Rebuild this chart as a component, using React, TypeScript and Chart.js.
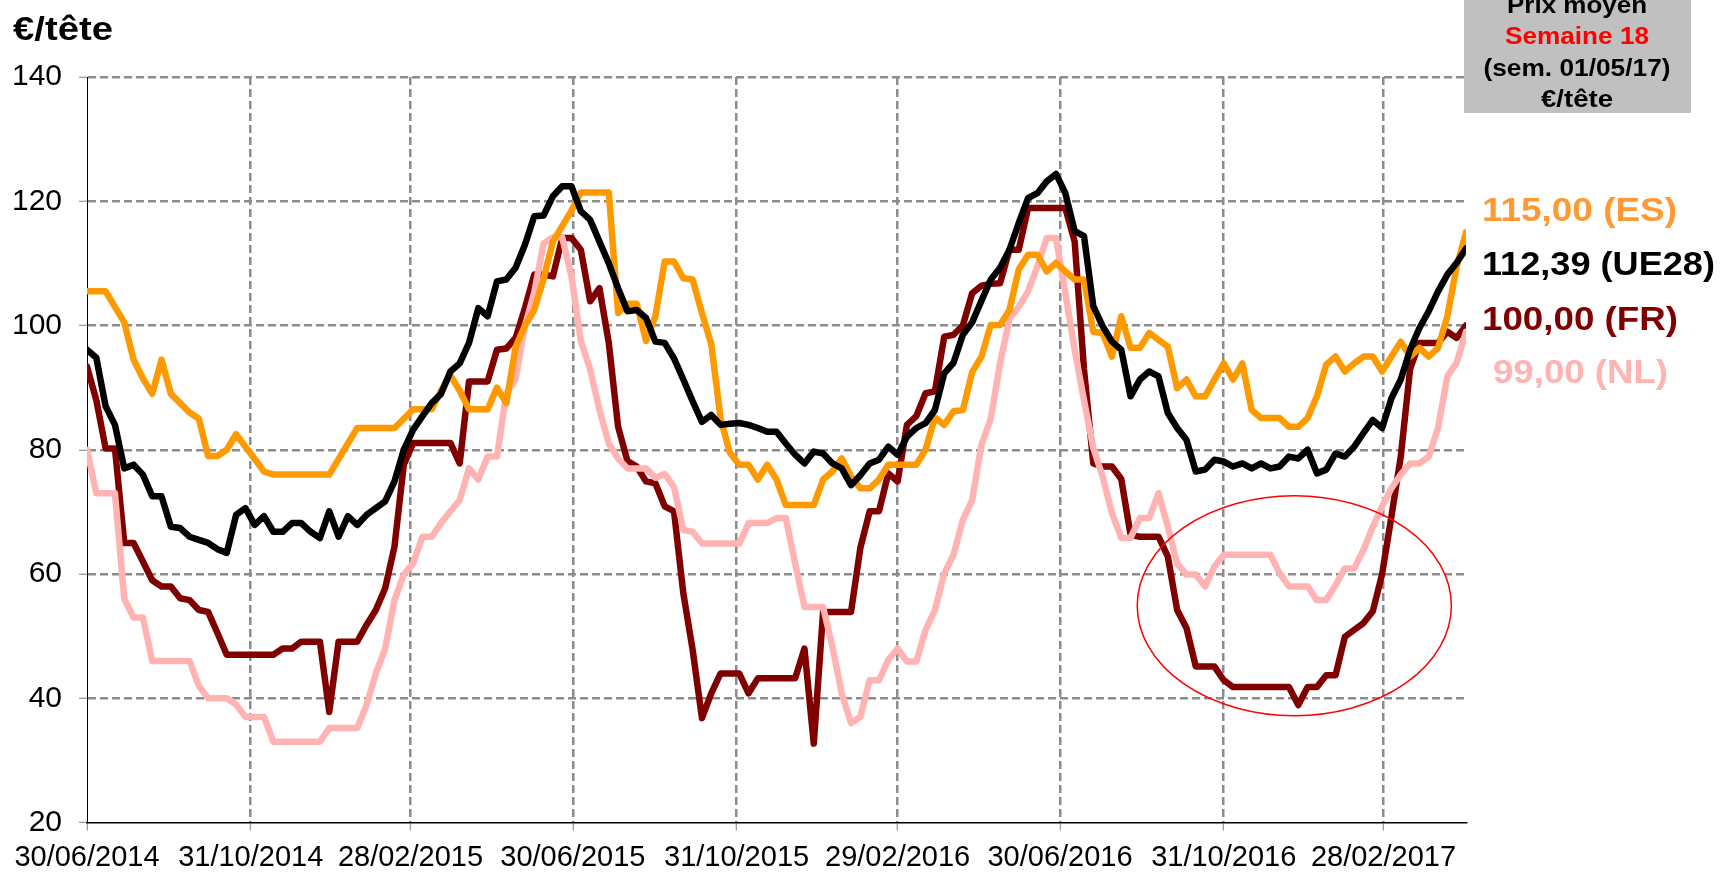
import React, { useEffect, useRef } from 'react';
import { Chart, registerables } from 'chart.js';

Chart.register(...registerables);

// Weekly observations, day offsets from 30/06/2014 (week 27/2014 .. week 18/2017)
const weekDays: number[] = Array.from({ length: 149 }, (_, i) => i * 7);

const tickDays = [0, 123, 243, 365, 488, 609, 731, 854, 974];
const tickLabels = ['30/06/2014', '31/10/2014', '28/02/2015', '30/06/2015', '31/10/2015', '29/02/2016', '30/06/2016', '31/10/2016', '28/02/2017'];

const esValues = [
  105.5, 105.5, 105.5, 103, 100.5, 94.5, 91.5, 89, 94.5, 89,
  87.5, 86, 85, 79, 79, 80, 82.5, 80.5, 78.5, 76.5,
  76, 76, 76, 76, 76, 76, 76, 78.5, 81, 83.5,
  83.5, 83.5, 83.5, 83.5, 85, 86.5, 86.5, 86.5, 89.5, 92,
  89.5, 86.5, 86.5, 86.5, 90, 87.5, 96.5, 100, 102.5, 107.5,
  113.5, 116, 118.5, 121.4, 121.4, 121.4, 121.4, 102, 103.5, 103.5,
  97.5, 101.5, 110.3, 110.3, 107.6, 107.4, 102, 97, 85, 79.5,
  77.6, 77.6, 75.2, 77.6, 75.2, 71.1, 71.1, 71.1, 71.1, 75.2,
  76.5, 78.6, 75.7, 73.8, 73.8, 75.2, 77.6, 77.6, 77.6, 77.6,
  80, 85.2, 84, 86.2, 86.4, 92.5, 95, 100.1, 100.1, 102.5,
  109, 111.4, 111.4, 108.7, 110.1, 108.7, 107.4, 107.4, 99, 98.8,
  95, 101.5, 96.4, 96.4, 98.8, 97.7, 96.6, 89.9, 91.3, 88.6,
  88.6, 91.3, 93.9, 91.3, 93.9, 86.4, 85.1, 85.1, 85.1, 83.7,
  83.7, 85.1, 88.6, 93.7, 95, 92.6, 93.9, 95, 95, 92.6,
  95, 97.4, 95, 96.4, 95, 96.4, 101.5, 109.5, 115,
];

const ue28Values = [
  96.1, 94.8, 87, 84, 77, 77.6, 76, 72.5, 72.5, 67.6,
  67.4, 66, 65.5, 65, 64, 63.4, 69.5, 70.6, 67.9, 69.3,
  66.8, 66.8, 68.2, 68.2, 66.8, 65.8, 70.1, 66, 69.3, 67.9,
  69.5, 70.6, 71.7, 74.9, 80, 83.2, 85.4, 87.5, 89, 92.6,
  93.9, 97.2, 102.8, 101.5, 107.1, 107.4, 109.3, 113, 117.6, 117.7,
  120.8, 122.4, 122.4, 118.4, 117, 113.5, 110, 106, 102.3, 102.5,
  101.2, 97.4, 97.2, 94.7, 91.3, 87.8, 84.5, 85.6, 84, 84.2,
  84.3, 84, 83.5, 82.9, 82.9, 81, 79.2, 77.8, 79.7, 79.4,
  77.8, 77, 74.3, 75.9, 77.8, 78.4, 80.5, 79.2, 82.1, 83.5,
  84.3, 86.4, 92.3, 94, 98.5, 100.5, 104, 107.4, 109.3, 112.2,
  116.5, 120.5, 121.3, 123.2, 124.4, 121.3, 115.2, 114.4, 103.1, 99.9,
  97.4, 96.1, 88.6, 91.3, 92.6, 91.8, 85.9, 83.5, 81.6, 76.5,
  76.8, 78.4, 78.1, 77.3, 77.8, 77, 77.8, 77, 77.3, 78.9,
  78.6, 80, 76.2, 76.8, 79.4, 78.9, 80.5, 82.7, 84.8, 83.5,
  88.3, 91.3, 96.1, 99.6, 102.3, 105.5, 108.2, 110.1, 112.39,
];

const frValues = [
  93.4, 88, 80.2, 80.2, 65, 65, 62, 59, 58, 58,
  56.1, 55.8, 54.2, 53.9, 50.5, 47, 47, 47, 47, 47,
  47, 48, 48, 49.1, 49.1, 49.1, 37.8, 49.1, 49.1, 49.1,
  51.8, 54.2, 57.7, 64.4, 77.6, 81.1, 81.1, 81.1, 81.1, 81.1,
  77.8, 91, 91, 91, 96.1, 96.3, 98, 102.8, 108.2, 108.2,
  107.9, 114.1, 114.1, 112.2, 103.9, 106, 97.2, 83.7, 78.2, 77.3,
  74.9, 74.6, 70.9, 70.1, 56.9, 47.8, 36.8, 40.8, 44, 44,
  44, 40.8, 43.2, 43.2, 43.2, 43.2, 43.2, 48, 32.7, 53.9,
  53.9, 53.9, 53.9, 64.2, 70.1, 70.1, 76.2, 74.9, 84, 85.4,
  89.1, 89.4, 98.2, 98.5, 100, 105.2, 106.4, 106.7, 106.8, 112.2,
  112.2, 118.9, 118.9, 118.9, 118.9, 118.9, 113.5, 93, 77.8, 77.3,
  77.3, 75.3, 66.3, 66, 66, 66, 62.8, 54.2, 51.3, 45.1,
  45.1, 45.1, 42.9, 41.8, 41.8, 41.8, 41.8, 41.8, 41.8, 41.8,
  38.9, 41.8, 41.8, 43.7, 43.7, 49.9, 51, 52.1, 54, 60,
  69.3, 78.9, 93, 97.2, 97.2, 97.2, 99, 98, 100,
];

const nlValues = [
  80, 73, 73, 73, 56, 53, 53, 46, 46, 46,
  46, 46, 42, 40, 40, 40, 39, 37, 37, 37,
  33, 33, 33, 33, 33, 33, 35.2, 35.2, 35.2, 35.2,
  38.9, 44, 48, 55.8, 59.9, 61.7, 66, 66, 68.2, 70.1,
  71.9, 77, 75.2, 78.9, 78.9, 89, 91.3, 99.9, 105.3, 113.2,
  114.2, 114.2, 107.9, 97.5, 92.9, 86.4, 81, 78.6, 77, 77,
  77, 75.5, 76.1, 74, 67.1, 66.8, 64.9, 64.9, 64.9, 64.9,
  64.9, 68.2, 68.2, 68.2, 69, 69, 61.7, 54.7, 54.7, 54.7,
  48.3, 40.8, 36, 37, 42.9, 42.9, 46.2, 48, 45.9, 45.9,
  51, 54.2, 60.1, 63.1, 68.7, 71.9, 80.8, 85, 94, 101,
  103, 105.5, 109.5, 114.1, 114.1, 105.2, 96.1, 88, 80.3, 75.7,
  69.8, 65.8, 65.8, 69, 69, 73, 67.6, 61.7, 59.9, 59.9,
  58, 61.2, 63.1, 63.1, 63.1, 63.1, 63.1, 63.1, 60.1, 58,
  58, 58, 55.8, 55.8, 58.2, 60.9, 60.9, 63.9, 67.6, 70.9,
  73.8, 76, 77.8, 77.8, 78.9, 83.5, 91.8, 94, 99,
];

const seriesNames = ['UE28', 'ES', 'NL', 'FR'];
const seriesColors = ['#000000', '#FF9900', '#FFB3B3', '#800000'];

const FONT = '"Liberation Sans", Arial, Helvetica, sans-serif';

// annotation: ellipse around FR/NL winter 2016/17 (data coordinates)
const ellipseCenterDay = 907;
const ellipseCenterValue = 54.9;
const ellipseRadiusDays = 118;
const ellipseRadiusValue = 17.7;

type Lbl = { text: string; x: number; base: number; size: number; width: number; color: string; align: CanvasTextAlign };

const sideLabels: Lbl[] = [
  { text: '115,00 (ES)', x: 1482, base: 221, size: 34, width: 195, color: '#FF9933', align: 'left' },
  { text: '112,39 (UE28)', x: 1482, base: 275, size: 34, width: 233, color: '#000000', align: 'left' },
  { text: '100,00 (FR)', x: 1482, base: 330, size: 34, width: 196, color: '#800000', align: 'left' },
  { text: '99,00 (NL)', x: 1493, base: 383, size: 34, width: 175, color: '#FFB3B3', align: 'left' },
];

const boxLabels: Lbl[] = [
  { text: 'Prix moyen', x: 1577, base: 13, size: 24, width: 140, color: '#000000', align: 'center' },
  { text: 'Semaine 18', x: 1577, base: 44, size: 24, width: 144, color: '#FF0000', align: 'center' },
  { text: '(sem. 01/05/17)', x: 1577, base: 76, size: 24, width: 187, color: '#000000', align: 'center' },
  { text: '€/tête', x: 1577, base: 107, size: 24, width: 72, color: '#000000', align: 'center' },
];

const titleLabel: Lbl = { text: '€/tête', x: 13, base: 40, size: 33, width: 100, color: '#000000', align: 'left' };

function drawLabel(ctx: CanvasRenderingContext2D, l: Lbl) {
  ctx.save();
  ctx.font = `bold ${l.size}px ${FONT}`;
  const w = ctx.measureText(l.text).width;
  const sx = w > 0 ? l.width / w : 1;
  ctx.translate(l.x, l.base);
  ctx.scale(sx, 1);
  ctx.textAlign = l.align;
  ctx.textBaseline = 'alphabetic';
  ctx.fillStyle = l.color;
  ctx.fillText(l.text, 0, 0);
  ctx.restore();
}

const annotations = {
  id: 'annotations',
  afterDraw(chart: any) {
    const { ctx, scales } = chart;
    const x = scales.x;
    const y = scales.y;
    ctx.save();
    // ellipse
    const cx = x.getPixelForValue(ellipseCenterDay);
    const cy = y.getPixelForValue(ellipseCenterValue);
    const rx = x.getPixelForValue(ellipseCenterDay + ellipseRadiusDays) - cx;
    const ry = y.getPixelForValue(ellipseCenterValue - ellipseRadiusValue) - cy;
    ctx.beginPath();
    ctx.ellipse(cx, cy, rx, ry, 0, 0, Math.PI * 2);
    ctx.strokeStyle = '#FF0000';
    ctx.lineWidth = 1.5;
    ctx.stroke();
    // grey info box
    ctx.fillStyle = '#C0C0C0';
    ctx.fillRect(1464, 0, 227, 113);
    ctx.restore();
    boxLabels.forEach((l) => drawLabel(ctx, l));
    sideLabels.forEach((l) => drawLabel(ctx, l));
    drawLabel(ctx, titleLabel);
  },
};

export default function App() {
  const ref = useRef<HTMLCanvasElement | null>(null);

  useEffect(() => {
    if (!ref.current) return;
    const valuesBySeries = [ue28Values, esValues, nlValues, frValues];
    const chart = new Chart(ref.current, {
      type: 'line',
      data: {
        datasets: seriesNames.map((name, k) => ({
          label: name,
          data: weekDays.map((d, i) => ({ x: d, y: valuesBySeries[k][i] })),
          borderColor: seriesColors[k],
          backgroundColor: seriesColors[k],
          borderWidth: 6.5,
          pointRadius: 0,
          tension: 0,
          borderJoinStyle: 'round' as const,
          borderCapStyle: 'round' as const,
          fill: false,
        })),
      },
      options: {
        responsive: false,
        animation: false,
        devicePixelRatio: 1,
        layout: { padding: { left: 0, right: 260, top: 77, bottom: 0 } },
        plugins: {
          legend: { display: false },
          tooltip: { enabled: false },
          title: { display: false },
        },
        scales: {
          x: {
            type: 'linear',
            min: 0,
            max: 1036,
            afterBuildTicks: (scale: any) => {
              scale.ticks = tickDays.map((v) => ({ value: v }));
            },
            afterFit: (scale: any) => {
              scale.height = 49.5;
            },
            ticks: {
              autoSkip: false,
              maxRotation: 0,
              padding: 10,
              color: '#000000',
              font: { family: FONT, size: 29 },
              callback: (value: any) => {
                const idx = tickDays.indexOf(Number(value));
                return idx >= 0 ? tickLabels[idx] : '';
              },
            },
            grid: {
              color: (c: any) => (c.tick && c.tick.value === 0 ? 'rgba(0,0,0,0)' : '#8c8c8c'),
              lineWidth: 2.5,
              tickLength: 8,
              tickColor: '#808080',
              tickWidth: 1,
              drawTicks: true,
            },
            border: { display: true, color: '#000000', width: 1.5, dash: [8, 4] },
          },
          y: {
            type: 'linear',
            min: 20,
            max: 140,
            afterFit: (scale: any) => {
              scale.width = 87;
            },
            ticks: {
              stepSize: 20,
              padding: 17,
              color: '#000000',
              font: { family: FONT, size: 30 },
            },
            grid: {
              color: (c: any) => (c.tick && c.tick.value === 20 ? 'rgba(0,0,0,0)' : '#8c8c8c'),
              lineWidth: 2.5,
              tickLength: 8,
              tickColor: '#808080',
              tickWidth: 1,
              drawTicks: true,
            },
            border: { display: true, color: '#000000', width: 1, dash: [8, 4] },
          },
        },
      },
      plugins: [annotations],
    });
    return () => chart.destroy();
  }, []);

  return (
    <div style={{ position: 'fixed', left: 0, top: 0, width: 1726, height: 872, background: '#ffffff' }}>
      <canvas ref={ref} width={1726} height={872} style={{ display: 'block' }} />
    </div>
  );
}
